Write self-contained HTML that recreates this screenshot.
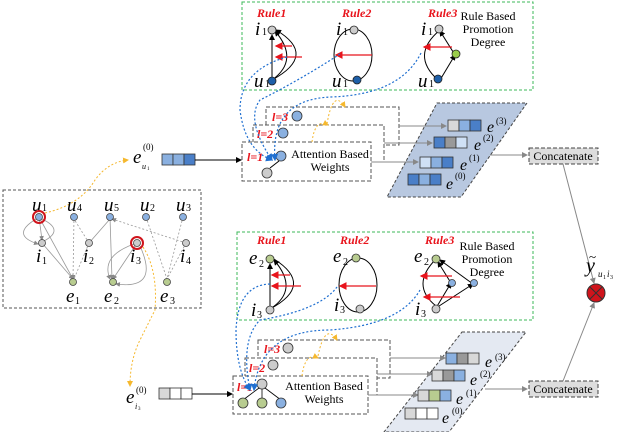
<!DOCTYPE html>
<html><head><meta charset="utf-8"><style>
html,body{margin:0;padding:0;background:#fff;}
svg{display:block;font-family:"Liberation Serif",serif;}
.it{font-style:italic;}
.r{fill:#e8141c;font-weight:bold;font-style:italic;font-size:12px;font-family:"Liberation Serif",serif;}
</style></head><body>
<svg width="623" height="432" viewBox="0 0 623 432" xmlns="http://www.w3.org/2000/svg">
<defs>
<marker id="a" markerWidth="6" markerHeight="6" refX="5" refY="3" orient="auto"><path d="M0,0L6,3L0,6z" fill="#000"/></marker>
<marker id="g" markerWidth="6" markerHeight="6" refX="5" refY="3" orient="auto"><path d="M0,0L6,3L0,6z" fill="#888"/></marker>
<marker id="rd" markerWidth="6" markerHeight="6" refX="5" refY="3" orient="auto"><path d="M0,0L6,3L0,6z" fill="#e8141c"/></marker>
<marker id="b" markerWidth="6" markerHeight="6" refX="5" refY="3" orient="auto"><path d="M0,0L6,3L0,6z" fill="#1f6fd0"/></marker>
<marker id="y" markerWidth="6" markerHeight="6" refX="5" refY="3" orient="auto"><path d="M0,0L6,3L0,6z" fill="#f5b82e"/></marker>
</defs>

<!-- TOP RULE BOX -->
<rect x="242" y="2" width="291" height="88" fill="none" stroke="#3cb85a" stroke-dasharray="3,2"/>
<text x="257" y="17" class="r">Rule1</text>
<text x="342" y="17" class="r">Rule2</text>
<text x="428" y="17" class="r">Rule3</text>
<g font-size="12" text-anchor="middle"><text x="488" y="20">Rule Based</text><text x="488" y="33">Promotion</text><text x="488" y="46">Degree</text></g>
<g font-size="19" class="it"><text x="255" y="35">i</text><text x="254" y="87">u</text><text x="336" y="35">i</text><text x="332" y="87">u</text><text x="421" y="35">i</text><text x="418" y="87">u</text></g>
<g font-size="10"><text x="262" y="35">1</text><text x="265" y="87">1</text><text x="343" y="35">1</text><text x="343" y="87">1</text><text x="428" y="35">1</text><text x="429" y="87">1</text></g>
<g fill="none" stroke="#000" stroke-width="1">
<line x1="272" y1="80" x2="272" y2="35" marker-end="url(#a)"/>
<path d="M272,80 Q300,60 275,31" marker-end="url(#a)"/>
<path d="M272,80 Q318,55 276,30" marker-end="url(#a)"/>
<ellipse cx="353" cy="55" rx="19" ry="26"/>
<path d="M440,80 L455,55" marker-end="url(#a)"/><path d="M455,55 L440,31" marker-end="url(#a)"/>
<path d="M440,30 Q410,55 438,80"/>
</g>
<g stroke="#e8141c" stroke-width="1.3">
<line x1="292" y1="46" x2="276" y2="46" marker-end="url(#rd)"/><line x1="302" y1="57" x2="276" y2="57" marker-end="url(#rd)"/>
<line x1="372" y1="55" x2="336" y2="55" marker-end="url(#rd)"/><line x1="452" y1="47" x2="424" y2="47" marker-end="url(#rd)"/>
</g>
<g stroke="#222" stroke-width="0.8">
<circle cx="272" cy="30" r="4" fill="#ccc"/><circle cx="272" cy="81" r="4" fill="#1e5fa8"/>
<circle cx="354" cy="30" r="4" fill="#ccc"/><circle cx="357" cy="80" r="4" fill="#1e5fa8"/>
<circle cx="439" cy="29" r="4" fill="#ccc"/><circle cx="456" cy="54" r="4" fill="#9acd4a"/><circle cx="438" cy="79" r="4" fill="#1e5fa8"/>
</g>

<!-- TOP STACK -->
<g fill="#fff" stroke="#555" stroke-dasharray="4,2">
<rect x="266" y="107" width="133" height="38"/>
<rect x="253" y="125" width="131" height="37"/>
<rect x="242" y="142" width="129" height="39"/>
</g>
<text x="272" y="121" class="r">l=3</text>
<text x="257" y="138" class="r">l=2</text>
<text x="247" y="161" class="r">l=1</text>
<circle cx="297" cy="116" r="5" fill="#8ab0e0" stroke="#333" stroke-width="0.8"/>
<circle cx="283" cy="133" r="5" fill="#8ab0e0" stroke="#333" stroke-width="0.8"/>
<circle cx="281" cy="156" r="5" fill="#8ab0e0" stroke="#333" stroke-width="0.8"/>
<circle cx="267" cy="173" r="5" fill="#ccc" stroke="#333" stroke-width="0.8"/>
<line x1="279" y1="161" x2="270" y2="168" stroke="#000"/>
<g font-size="12" text-anchor="middle"><text x="330" y="158">Attention Based</text><text x="330" y="171">Weights</text></g>
<g fill="none" stroke="#f5b82e" stroke-dasharray="2,2">
<path d="M312,142 Q315,118 328,125" marker-end="url(#y)"/>
<path d="M327,124 Q333,88 345,107" marker-end="url(#y)"/>
</g>
<g fill="none" stroke="#1f6fd0" stroke-dasharray="2,2" stroke-width="1.2">
<path d="M287,57 Q240,70 240,110 Q245,150 272,160" marker-end="url(#b)"/>
<path d="M340,54 Q300,80 260,100 Q245,120 272,160" marker-end="url(#b)"/>
<path d="M421,53 Q400,95 330,97 Q270,100 275,160" marker-end="url(#b)"/>
</g>
<polygon points="437,103 527,103 461,197 387,197" fill="#b8c8e0" stroke="#444" stroke-dasharray="3,2"/>
<g stroke="#888" fill="none">
<path d="M399,126 H446" marker-end="url(#g)"/><path d="M384,143 L432,143" marker-end="url(#g)"/>
<path d="M371,162 H418" marker-end="url(#g)"/>
<path d="M490,155 H527" marker-end="url(#g)"/>
</g>
<g stroke="#333" stroke-width="0.8">
<rect x="448" y="120" width="11" height="11" fill="#d8d8d8"/><rect x="459" y="120" width="11" height="11" fill="#8ab0e0"/><rect x="470" y="120" width="11" height="11" fill="#4a7fc8"/>
<rect x="434" y="137" width="11" height="11" fill="#4a7fc8"/><rect x="445" y="137" width="11" height="11" fill="#999"/><rect x="456" y="137" width="11" height="11" fill="#cfe0f5"/>
<rect x="420" y="157" width="11" height="11" fill="#cfe0f5"/><rect x="431" y="157" width="11" height="11" fill="#8ab0e0"/><rect x="442" y="157" width="11" height="11" fill="#4a7fc8"/>
<rect x="408" y="174" width="11" height="11" fill="#4a7fc8"/><rect x="419" y="174" width="11" height="11" fill="#8ab0e0"/><rect x="430" y="174" width="11" height="11" fill="#4a7fc8"/>
</g>
<g class="it" font-size="16"><text x="487" y="132">e</text><text x="474" y="150">e</text><text x="460" y="170">e</text><text x="446" y="189">e</text></g>
<g font-size="9"><text x="496" y="124">(3)</text><text x="483" y="141">(2)</text><text x="469" y="161">(1)</text><text x="455" y="179">(0)</text></g>
<rect x="529" y="148" width="69" height="16" fill="#ddd" stroke="#444" stroke-dasharray="4,2"/>
<text x="563" y="160" font-size="12" text-anchor="middle">Concatenate</text>
<line x1="563" y1="164" x2="594" y2="283" stroke="#888" marker-end="url(#g)"/>
<line x1="563" y1="381" x2="594" y2="303" stroke="#888" marker-end="url(#g)"/>
<circle cx="596" cy="293" r="9" fill="#d0141c" stroke="#333"/>
<path d="M590,287L602,299M602,287L590,299" stroke="#333"/>
<text x="586" y="272" class="it" font-size="20">y</text><text x="589" y="261" font-size="13">~</text>
<text x="598" y="277" class="it" font-size="9">u</text><text x="603" y="279" font-size="6">1</text><text x="607" y="277" class="it" font-size="9">i</text><text x="610" y="279" font-size="6">3</text>

<!-- e_u1^(0) -->
<text x="133" y="163" class="it" font-size="19">e</text><text x="143" y="150" font-size="9">(0)</text><text x="142" y="169" class="it" font-size="8">u</text><text x="147" y="170" font-size="5">1</text>
<g stroke="#333" stroke-width="0.8"><rect x="162" y="154" width="11" height="11" fill="#8ab0e0"/><rect x="173" y="154" width="11" height="11" fill="#8ab0e0"/><rect x="184" y="154" width="11" height="11" fill="#4a7fc8"/></g>
<line x1="195" y1="160" x2="241" y2="160" stroke="#000" marker-end="url(#a)"/>
<path d="M45,213 Q80,205 95,180 Q108,162 128,160" fill="none" stroke="#f5b82e" stroke-dasharray="2,2" marker-end="url(#y)"/>

<!-- LEFT GRAPH -->
<rect x="3" y="190" width="198" height="118" fill="none" stroke="#555" stroke-dasharray="3,2"/>
<g class="it" font-size="19"><text x="32" y="211">u</text><text x="67" y="211">u</text><text x="104" y="211">u</text><text x="140" y="211">u</text><text x="176" y="211">u</text>
<text x="36" y="262">i</text><text x="83" y="262">i</text><text x="130" y="262">i</text><text x="180" y="262">i</text>
<text x="66" y="302">e</text><text x="104" y="302">e</text><text x="160" y="302">e</text></g>
<g font-size="10"><text x="42" y="211">1</text><text x="77" y="211">4</text><text x="114" y="211">5</text><text x="150" y="211">2</text><text x="186" y="211">3</text>
<text x="42" y="264">1</text><text x="89" y="264">2</text><text x="136" y="264">3</text><text x="186" y="264">4</text>
<text x="75" y="304">1</text><text x="114" y="304">2</text><text x="170" y="304">3</text></g>
<g stroke="#999" fill="none" stroke-width="0.8">
<line x1="39" y1="217" x2="42" y2="240" marker-end="url(#g)"/><line x1="39" y1="217" x2="73" y2="279" marker-end="url(#g)"/>
<line x1="42" y1="243" x2="73" y2="279" marker-end="url(#g)"/><path d="M36,219 Q10,235 38,244" marker-end="url(#g)"/><path d="M42,219 Q65,230 44,241"/>
<line x1="74" y1="217" x2="73" y2="279" stroke-dasharray="2,2" marker-end="url(#g)"/><line x1="89" y1="243" x2="74" y2="219" stroke-dasharray="2,2"/><line x1="89" y1="243" x2="74" y2="279" stroke-dasharray="2,2"/><line x1="89" y1="243" x2="110" y2="219"/>
<line x1="110" y1="217" x2="112" y2="279" marker-end="url(#g)"/><line x1="137" y1="243" x2="113" y2="279" marker-end="url(#g)"/><path d="M137,243 Q100,255 110,279" marker-end="url(#g)"/><path d="M140,246 Q160,290 116,284" marker-end="url(#g)"/>
<line x1="146" y1="217" x2="167" y2="279" stroke-dasharray="2,2"/><line x1="183" y1="217" x2="167" y2="279" stroke-dasharray="2,2"/><line x1="186" y1="243" x2="112" y2="219" stroke-dasharray="2,2" marker-end="url(#g)"/><line x1="186" y1="243" x2="167" y2="279" stroke-dasharray="2,2"/>
</g>
<g stroke="#444" stroke-width="0.8">
<circle cx="39" cy="217" r="6" fill="none" stroke="#d0141c" stroke-width="2"/><circle cx="39" cy="217" r="3.5" fill="#8ab0e0"/>
<circle cx="74" cy="217" r="3.5" fill="#8ab0e0"/><circle cx="110" cy="217" r="3.5" fill="#8ab0e0"/><circle cx="146" cy="217" r="3.5" fill="#8ab0e0"/><circle cx="183" cy="217" r="3.5" fill="#8ab0e0"/>
<circle cx="42" cy="243" r="3.5" fill="#ccc"/><circle cx="89" cy="243" r="3.5" fill="#ccc"/><circle cx="186" cy="243" r="3.5" fill="#ccc"/>
<circle cx="137" cy="243" r="6" fill="none" stroke="#d0141c" stroke-width="2"/><circle cx="137" cy="243" r="3.5" fill="#ccc"/>
<circle cx="73" cy="282" r="3.5" fill="#b8cc90"/><circle cx="113" cy="282" r="3.5" fill="#b8cc90"/><circle cx="167" cy="282" r="3.5" fill="#b8cc90"/>
</g>
<path d="M143,247 Q158,270 155,310 Q150,320 140,340 Q130,360 130,386" fill="none" stroke="#f5b82e" stroke-dasharray="2,2" marker-end="url(#y)"/>

<!-- e_i3^(0) -->
<text x="126" y="403" class="it" font-size="19">e</text><text x="136" y="393" font-size="9">(0)</text><text x="135" y="409" class="it" font-size="8">i</text><text x="138" y="410" font-size="5">3</text>
<g stroke="#333" stroke-width="0.8"><rect x="159" y="388" width="11" height="11" fill="#d8d8d8"/><rect x="170" y="388" width="11" height="11" fill="#fff"/><rect x="181" y="388" width="11" height="11" fill="#fff"/></g>
<line x1="192" y1="394" x2="232" y2="394" stroke="#000" marker-end="url(#a)"/>

<!-- BOTTOM RULE BOX -->
<rect x="237" y="232" width="296" height="88" fill="none" stroke="#3cb85a" stroke-dasharray="3,2"/>
<text x="257" y="244" class="r">Rule1</text>
<text x="340" y="244" class="r">Rule2</text>
<text x="425" y="244" class="r">Rule3</text>
<g font-size="12" text-anchor="middle"><text x="487" y="250">Rule Based</text><text x="487" y="263">Promotion</text><text x="487" y="276">Degree</text></g>
<g font-size="19" class="it"><text x="249" y="264">e</text><text x="251" y="316">i</text><text x="333" y="262">e</text><text x="334" y="311">i</text><text x="414" y="262">e</text><text x="415" y="315">i</text></g>
<g font-size="10"><text x="259" y="267">2</text><text x="257" y="318">3</text><text x="343" y="265">2</text><text x="340" y="313">3</text><text x="424" y="265">2</text><text x="421" y="317">3</text></g>
<g fill="none" stroke="#000">
<line x1="270" y1="309" x2="270" y2="264" marker-end="url(#a)"/>
<path d="M270,309 Q300,290 274,260" marker-end="url(#a)"/><path d="M270,309 Q315,285 274,259"/>
<ellipse cx="358" cy="285" rx="19" ry="27"/>
<path d="M436,306 Q410,285 436,259"/>
<path d="M436,308 L451,283" marker-end="url(#a)"/><path d="M451,283 L438,262" marker-end="url(#a)"/>
<path d="M436,308 L473,284" marker-end="url(#a)"/><path d="M473,284 L440,260" marker-end="url(#a)"/>
</g>
<g stroke="#e8141c" stroke-width="1.3">
<line x1="290" y1="275" x2="272" y2="275" marker-end="url(#rd)"/><line x1="301" y1="286" x2="272" y2="286" marker-end="url(#rd)"/>
<line x1="376" y1="286" x2="340" y2="286" marker-end="url(#rd)"/>
<line x1="452" y1="276" x2="421" y2="276" marker-end="url(#rd)"/><line x1="460" y1="297" x2="424" y2="297" marker-end="url(#rd)"/>
</g>
<g stroke="#333" stroke-width="0.8">
<circle cx="270" cy="259" r="4" fill="#b8cc90"/><circle cx="270" cy="310" r="4" fill="#ccc"/>
<circle cx="356" cy="258" r="4" fill="#b8cc90"/><circle cx="360" cy="309" r="4" fill="#ccc"/>
<circle cx="436" cy="259" r="4" fill="#b8cc90"/><circle cx="452" cy="283" r="3.5" fill="#8ab0e0"/><circle cx="474" cy="283" r="3.5" fill="#8ab0e0"/><circle cx="436" cy="309" r="4" fill="#ccc"/>
</g>

<!-- BOTTOM STACK -->
<g fill="#fff" stroke="#555" stroke-dasharray="4,2">
<rect x="258" y="340" width="132" height="38"/>
<rect x="245" y="358" width="132" height="37"/>
<rect x="233" y="376" width="135" height="38"/>
</g>
<text x="264" y="353" class="r">l=3</text>
<text x="249" y="372" class="r">l=2</text>
<text x="237" y="391" class="r">l=1</text>
<g stroke="#333" stroke-width="0.8">
<circle cx="288" cy="348" r="5" fill="#ccc"/><circle cx="273" cy="365" r="5" fill="#ccc"/><circle cx="262" cy="384" r="5" fill="#ccc"/>
<line x1="259" y1="388" x2="243" y2="400" stroke="#000"/><line x1="262" y1="389" x2="262" y2="399" stroke="#000"/><line x1="265" y1="388" x2="281" y2="400" stroke="#000"/>
<circle cx="243" cy="403" r="5" fill="#b8cc90"/><circle cx="262" cy="403" r="5" fill="#b8cc90"/><circle cx="281" cy="403" r="5" fill="#8ab0e0"/>
</g>
<g font-size="12" text-anchor="middle"><text x="324" y="390">Attention Based</text><text x="324" y="403">Weights</text></g>
<g fill="none" stroke="#f5b82e" stroke-dasharray="2,2">
<path d="M302,376 Q305,352 318,358" marker-end="url(#y)"/><path d="M318,356 Q325,322 337,340" marker-end="url(#y)"/>
</g>
<g fill="none" stroke="#1f6fd0" stroke-dasharray="2,2" stroke-width="1.2">
<path d="M270,284 Q238,285 236,330 Q236,370 250,390" marker-end="url(#b)"/>
<path d="M337,287 Q320,310 260,320 Q240,340 250,390" marker-end="url(#b)"/>
<path d="M420,290 Q400,325 330,330 Q260,330 254,390" marker-end="url(#b)"/>
</g>
<polygon points="462,332 526,332 449,432 384,432" fill="#e4e9f2" stroke="#444" stroke-dasharray="3,2"/>
<g stroke="#888" fill="none">
<path d="M390,358 H445" marker-end="url(#g)"/><path d="M377,374 H432" marker-end="url(#g)"/><path d="M368,395 H418" marker-end="url(#g)"/>
<path d="M485,389 H527" marker-end="url(#g)"/>
</g>
<g stroke="#333" stroke-width="0.8">
<rect x="446" y="353" width="11" height="11" fill="#8ab0e0"/><rect x="457" y="353" width="11" height="11" fill="#999"/><rect x="468" y="353" width="11" height="11" fill="#d8d8d8"/>
<rect x="432" y="370" width="11" height="11" fill="#d8d8d8"/><rect x="443" y="370" width="11" height="11" fill="#999"/><rect x="454" y="370" width="11" height="11" fill="#8ab0e0"/>
<rect x="418" y="390" width="11" height="11" fill="#d8d8d8"/><rect x="429" y="390" width="11" height="11" fill="#b8cc90"/><rect x="440" y="390" width="11" height="11" fill="#8ab0e0"/>
<rect x="405" y="408" width="11" height="11" fill="#d8d8d8"/><rect x="416" y="408" width="11" height="11" fill="#fff"/><rect x="427" y="408" width="11" height="11" fill="#fff"/>
</g>
<g class="it" font-size="16"><text x="485" y="367">e</text><text x="470" y="385">e</text><text x="456" y="404">e</text><text x="442" y="423">e</text></g>
<g font-size="9"><text x="495" y="360">(3)</text><text x="480" y="377">(2)</text><text x="466" y="396">(1)</text><text x="452" y="414">(0)</text></g>
<rect x="529" y="381" width="69" height="16" fill="#ddd" stroke="#444" stroke-dasharray="4,2"/>
<text x="563" y="393" font-size="12" text-anchor="middle">Concatenate</text>
</svg>
</body></html>
